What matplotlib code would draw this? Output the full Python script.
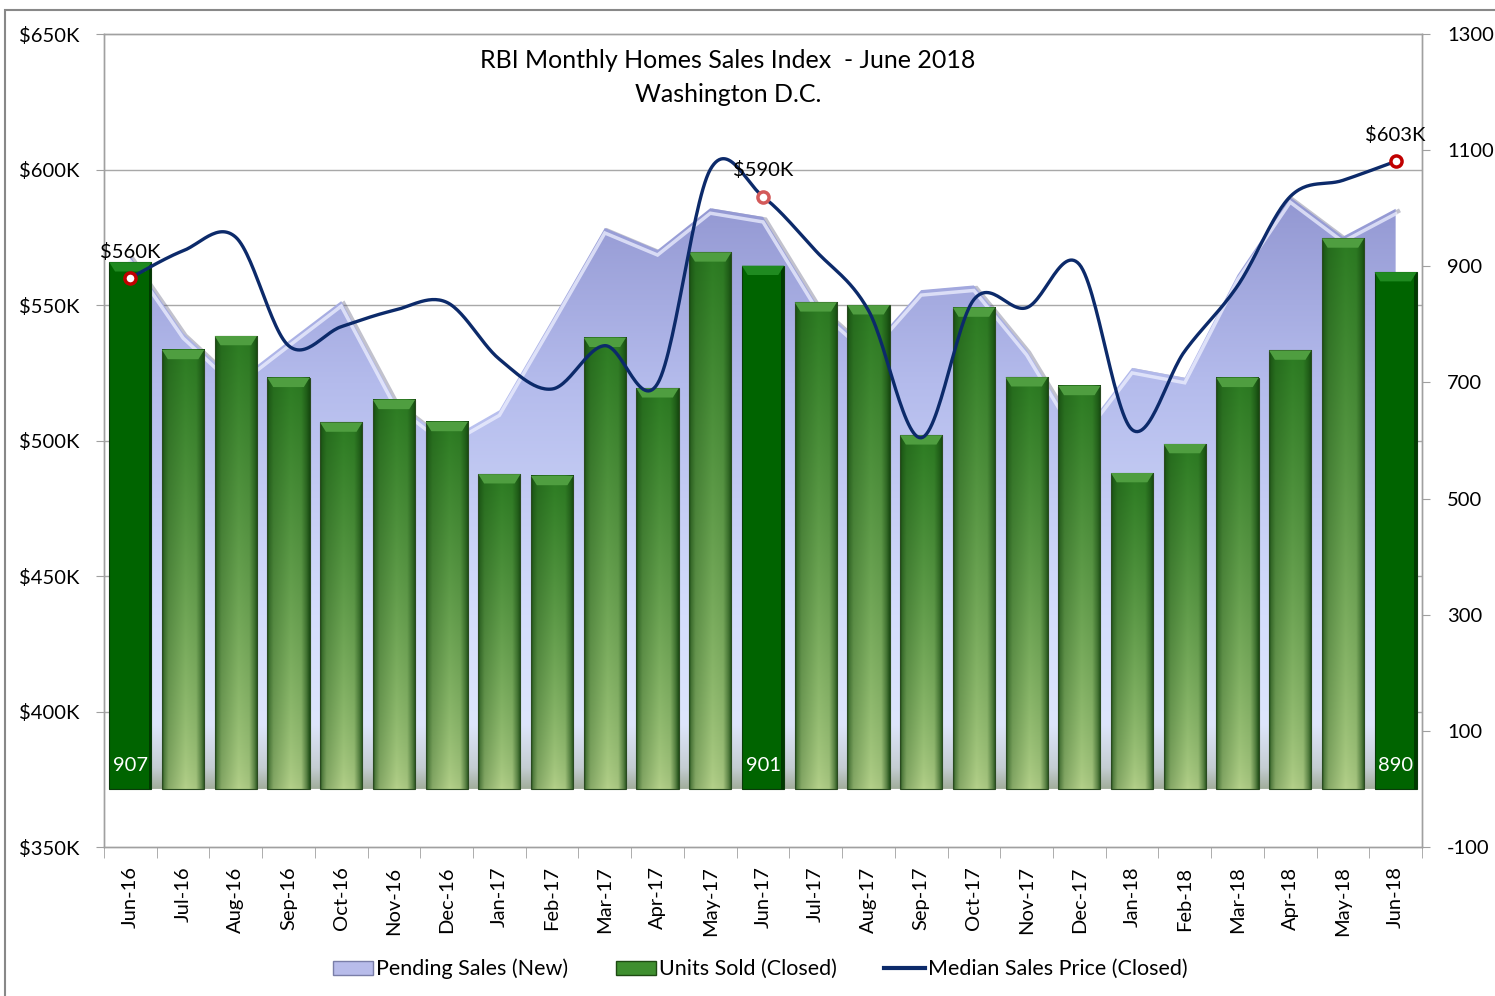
import numpy as np
import matplotlib
matplotlib.use('Agg')
import matplotlib.pyplot as plt
from matplotlib.patches import Polygon, Rectangle, Patch
from matplotlib.lines import Line2D
from matplotlib.colors import to_rgb
import matplotlib.transforms as mtransforms

# ---------------- data ----------------
months = ['Jun-16', 'Jul-16', 'Aug-16', 'Sep-16', 'Oct-16', 'Nov-16', 'Dec-16',
          'Jan-17', 'Feb-17', 'Mar-17', 'Apr-17', 'May-17', 'Jun-17', 'Jul-17',
          'Aug-17', 'Sep-17', 'Oct-17', 'Nov-17', 'Dec-17', 'Jan-18', 'Feb-18',
          'Mar-18', 'Apr-18', 'May-18', 'Jun-18']
pending_sales = [917, 785, 701, 771, 840, 670, 600, 652, 808, 966, 928, 1000, 985,
                 837, 756, 859, 867, 756, 606, 725, 708, 885, 1019, 951, 999]
units_sold = [907, 756, 780, 708, 631, 670, 632, 542, 539, 777, 690, 924, 901,
              838, 833, 609, 829, 709, 694, 544, 594, 708, 755, 948, 890]
median_price_k = [560, 570, 575, 535, 542, 548, 551, 530, 519, 535, 521, 600, 590,
                  570, 548, 501, 552, 549, 565, 504, 533, 557, 590, 596, 603]
highlight_idx = [0, 12, 24]
price_labels = ['$560K', '$590K', '$603K']
price_ticks = [350, 400, 450, 500, 550, 600, 650]
price_ticklabels = ['$350K', '$400K', '$450K', '$500K', '$550K', '$600K', '$650K']
unit_ticks = [-100, 100, 300, 500, 700, 900, 1100, 1300]

plt.rcParams['font.family'] = ['Lato', 'DejaVu Sans']
plt.rcParams['axes.unicode_minus'] = False

W, H = 1495, 996
fig = plt.figure(figsize=(W / 100, H / 100), dpi=100)
ax = fig.add_axes([104 / W, 1 - 847 / H, (1422 - 104) / W, (847 - 34) / H])
ax2 = ax.twinx()

x = np.arange(len(months))

# gridlines (price axis) under everything
for v in price_ticks[1:-1]:
    ax.axhline(v, color='#a8a8a8', lw=1.0, zorder=0)

# ---------------- pending sales area (gradient) ----------------
verts = [(xi, v) for xi, v in zip(x, pending_sales)] + [(x[-1], 0), (x[0], 0)]
area_poly = Polygon(verts, closed=True, transform=ax2.transData,
                    facecolor='none', edgecolor='none')
ax2.add_patch(area_poly)
stops_v = [0, 35, 110, 300, 700, 1100]
stops_c = ['#a2ae9c', '#c4cdd2', '#dde5fb', '#d4ddfc', '#b4bbec', '#8a8ecb']
yy = np.linspace(0, 1100, 400)
cols = np.array([np.interp(yy, stops_v, [to_rgb(c)[k] for c in stops_c]) for k in range(3)]).T
img = np.repeat(cols[:, None, :], 2, axis=1)
im = ax2.imshow(img, extent=(-0.5, 24.5, 0, 1100), origin='lower', aspect='auto',
                zorder=1, interpolation='bilinear')
im.set_clip_path(area_poly)

# shadow & highlight along the top edge
shadow_tr = mtransforms.offset_copy(ax2.transData, fig=fig, x=2.5, y=-2.5, units='dots')
ax2.plot(x, pending_sales, transform=shadow_tr, color='#505070', alpha=0.35, lw=3,
         zorder=0.9, solid_joinstyle='miter')
hl_tr = mtransforms.offset_copy(ax2.transData, fig=fig, x=0, y=-5, units='dots')
ax2.plot(x, pending_sales, transform=hl_tr, color='#eef0ff', alpha=0.75, lw=2.5,
         zorder=1.1, solid_joinstyle='miter')

# ---------------- bars ----------------
w = 0.8
hx = np.linspace(0, 1, 80)
hprof = np.interp(hx, [0, 0.04, 0.15, 0.55, 0.8, 0.93, 1.0],
                  [0.05, 0.4, 0.72, 1.0, 0.92, 0.45, 0.1])
vy = np.linspace(0, 1, 120)
dark = np.array(to_rgb('#12420d'))
bottom_c = np.array(to_rgb('#b4d08a'))
top_c = np.array(to_rgb('#2c7c22'))
base = bottom_c[None, :] + (top_c - bottom_c)[None, :] * (vy[:, None] ** 0.75)
bar_img = dark[None, None, :] + (base[:, None, :] - dark[None, None, :]) * hprof[None, :, None]
bar_img = np.clip(bar_img, 0, 1)

bx, by = 0.11, 16
for i, u in enumerate(units_sold):
    if i in highlight_idx:
        ax2.add_patch(Rectangle((i - w / 2, 0), w, u, facecolor='#006400',
                                edgecolor='#0a3a0a', lw=0.8, zorder=2))
        ax2.add_patch(Rectangle((i + w / 2 - 0.05, 0), 0.05, u, facecolor='#003a00',
                                edgecolor='none', zorder=2.05))
        bevel_c = '#1f8a20'
    else:
        ax2.imshow(bar_img, extent=(i - w / 2, i + w / 2, 0, u), origin='lower',
                   aspect='auto', zorder=2, interpolation='bilinear')
        ax2.add_patch(Rectangle((i - w / 2, 0), w, u, fill=False,
                                edgecolor='#2a4a20', lw=0.8, zorder=2.1))
        bevel_c = '#4f9e40'
    ax2.add_patch(Polygon([(i - w / 2, u), (i + w / 2, u), (i + w / 2 - bx, u - by),
                           (i - w / 2 + bx, u - by)], closed=True,
                          facecolor=bevel_c, edgecolor='none', zorder=2.2))

# ---------------- median price line (smoothed) ----------------
def smooth(xs, ys, n=30):
    P = np.column_stack([xs, ys]).astype(float)
    out = []
    for i in range(len(P) - 1):
        p0 = P[i - 1] if i > 0 else P[i]
        p1, p2 = P[i], P[i + 1]
        p3 = P[i + 2] if i + 2 < len(P) else P[i + 1]
        c1 = p1 + (p2 - p0) / 6
        c2 = p2 - (p3 - p1) / 6
        t = np.linspace(0, 1, n)[:, None]
        seg = (1 - t) ** 3 * p1 + 3 * (1 - t) ** 2 * t * c1 + 3 * (1 - t) * t ** 2 * c2 + t ** 3 * p2
        out.append(seg if i == 0 else seg[1:])
    return np.vstack(out)

curve = smooth(x, median_price_k)
ax2.plot(curve[:, 0], curve[:, 1], transform=ax.transData, color='#0c2a6a', lw=2.4,
         zorder=5, solid_capstyle='round')

for k, i in enumerate(highlight_idx):
    mec = '#d35a5a' if i == 12 else '#c00000'
    ax2.plot([i], [median_price_k[i]], 'o', ms=8, mfc='white', mec=mec, mew=2.5,
             transform=ax.transData, zorder=6)
    ax2.annotate(price_labels[k], xy=(i, median_price_k[i]), xycoords=ax.transData,
                 xytext=(0, 19), textcoords='offset points', ha='center', va='center',
                 fontsize=14.5, zorder=7)
    ax2.text(i, 40, str(units_sold[i]), color='white', ha='center', va='center',
             fontsize=14.5, zorder=7)

# ---------------- axes ----------------
ax.set_xlim(-0.5, 24.5)
ax.set_ylim(350, 650)
ax2.set_ylim(-100, 1300)
ax2.set_xlim(-0.5, 24.5)

ax.set_yticks(price_ticks)
ax.set_yticklabels(price_ticklabels)
ax.tick_params(axis='y', direction='out', length=6, color='#a0a0a0', labelsize=14.5, pad=12)
ax2.set_yticks(unit_ticks)
ax2.tick_params(axis='y', direction='out', length=6, color='#a0a0a0', labelsize=14.5, pad=12)

ax.set_xticks(x)
ax.set_xticklabels(months, rotation=90)
ax.tick_params(axis='x', which='major', length=0, pad=14, labelsize=14.5)
ax.set_xticks(np.arange(-0.5, 25, 1), minor=True)
ax.tick_params(axis='x', which='minor', length=8, color='#a0a0a0')

for a in (ax, ax2):
    for s in a.spines.values():
        s.set_color('#a0a0a0')
        s.set_linewidth(1.0)

# ---------------- title ----------------
fig.text(728 / W, 1 - 61 / H, 'RBI Monthly Homes Sales Index  - June 2018',
         ha='center', va='center', fontsize=18)
fig.text(728 / W, 1 - 95 / H, 'Washington D.C.', ha='center', va='center', fontsize=18)

# ---------------- legend ----------------
handles = [Patch(facecolor='#b8bcea', edgecolor='#7a7ea8'),
           Patch(facecolor='#3f8f2f', edgecolor='#1e4a12'),
           Line2D([0], [0], color='#0c2a6a', lw=3)]
labels = ['Pending Sales (New)', 'Units Sold (Closed)', 'Median Sales Price (Closed)']
fig.legend(handles, labels, loc='center', bbox_to_anchor=(760 / W, 1 - 969 / H),
           ncol=3, frameon=False, fontsize=15.5, handlelength=1.9, handleheight=0.6,
           handletextpad=0.12, columnspacing=2.2)

# outer chart border
fig.add_artist(Rectangle((5 / W, -0.2), 1.2, 1 - 10 / H + 0.2, transform=fig.transFigure,
                         fill=False, edgecolor='#888888', lw=1.5))

fig.savefig('out.png', dpi=100)
